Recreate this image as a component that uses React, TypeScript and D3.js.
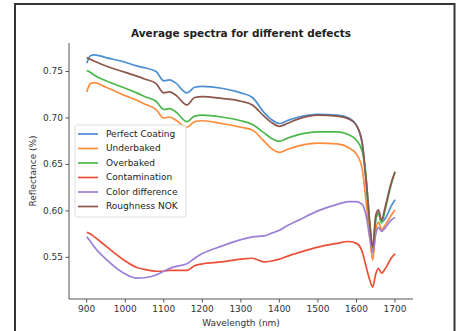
import React from 'react';
import * as d3 from 'd3';

const wavelengths = [900, 910, 920, 950, 1000, 1030, 1050, 1080, 1100, 1115, 1130, 1160, 1180, 1200, 1250, 1300, 1330, 1360, 1380, 1400, 1420, 1450, 1500, 1550, 1580, 1600, 1615, 1625, 1635, 1642, 1650, 1657, 1665, 1675, 1690, 1700];

const perfectCoating = [0.759, 0.767, 0.768, 0.765, 0.760, 0.756, 0.754, 0.750, 0.740, 0.741, 0.738, 0.727, 0.733, 0.734, 0.732, 0.727, 0.722, 0.706, 0.698, 0.694, 0.697, 0.701, 0.704, 0.703, 0.700, 0.692, 0.672, 0.630, 0.580, 0.557, 0.590, 0.598, 0.588, 0.592, 0.605, 0.612];
const underbaked = [0.728, 0.737, 0.738, 0.733, 0.724, 0.719, 0.715, 0.709, 0.700, 0.701, 0.698, 0.690, 0.696, 0.697, 0.694, 0.690, 0.687, 0.675, 0.667, 0.663, 0.666, 0.670, 0.673, 0.672, 0.668, 0.661, 0.645, 0.610, 0.570, 0.547, 0.578, 0.588, 0.580, 0.585, 0.595, 0.601];
const overbaked = [0.751, 0.749, 0.746, 0.740, 0.732, 0.727, 0.723, 0.718, 0.709, 0.710, 0.707, 0.696, 0.702, 0.703, 0.701, 0.697, 0.693, 0.684, 0.678, 0.675, 0.678, 0.682, 0.685, 0.685, 0.682, 0.676, 0.664, 0.635, 0.585, 0.556, 0.590, 0.597, 0.587, 0.602, 0.628, 0.642];
const contamination = [0.577, 0.575, 0.572, 0.562, 0.546, 0.539, 0.537, 0.535, 0.535, 0.536, 0.536, 0.536, 0.541, 0.543, 0.545, 0.548, 0.549, 0.545, 0.546, 0.548, 0.551, 0.555, 0.561, 0.565, 0.567, 0.565, 0.556, 0.540, 0.525, 0.518, 0.532, 0.538, 0.533, 0.538, 0.549, 0.554];
const colorDifference = [0.572, 0.567, 0.561, 0.548, 0.532, 0.5275, 0.528, 0.531, 0.535, 0.538, 0.540, 0.543, 0.549, 0.554, 0.562, 0.569, 0.572, 0.573, 0.576, 0.579, 0.584, 0.590, 0.600, 0.607, 0.610, 0.610, 0.607, 0.595, 0.570, 0.555, 0.575, 0.582, 0.578, 0.582, 0.590, 0.593];
const roughnessNok = [0.765, 0.763, 0.761, 0.756, 0.749, 0.745, 0.742, 0.737, 0.727, 0.728, 0.725, 0.714, 0.722, 0.723, 0.721, 0.718, 0.714, 0.702, 0.695, 0.691, 0.694, 0.699, 0.703, 0.702, 0.699, 0.692, 0.673, 0.635, 0.585, 0.561, 0.595, 0.601, 0.590, 0.605, 0.630, 0.642];

const seriesNames = ['Perfect Coating', 'Underbaked', 'Overbaked', 'Contamination', 'Color difference', 'Roughness NOK'];
const seriesValues = [perfectCoating, underbaked, overbaked, contamination, colorDifference, roughnessNok];
const colors = ['#4a8fd4', '#ff8c3c', '#4cb84c', '#ec4f37', '#9d7fd6', '#8c564b'];

const xTicks = [900, 1000, 1100, 1200, 1300, 1400, 1500, 1600, 1700];
const yTicks = [0.55, 0.6, 0.65, 0.7, 0.75];

const font = 'DejaVu Sans, sans-serif';

export default function App() {
  const width = 460;
  const height = 331;

  const x = d3.scaleLinear().domain([900, 1700]).range([86.7, 395]);
  const y = d3.scaleLinear().domain([0.55, 0.75]).range([257.3, 71.5]);

  const left = 69;
  const right = 413;
  const top = 43;
  const bottom = 299;

  const line = d3.line<[number, number]>()
    .x(d => x(d[0]))
    .y(d => y(d[1]))
    .curve(d3.curveMonotoneX);

  return (
    <svg width={width} height={height} style={{ position: 'absolute', left: 0, top: 0, background: '#fff' }}>
      <rect x={15} y={4} width={439.5} height={340} fill="#fff" stroke="#333" strokeWidth={2} />

      <text x={241} y={37} textAnchor="middle" fontFamily={font} fontSize={10.5} fontWeight="bold" fill="#222">
        Average spectra for different defects
      </text>

      {seriesValues.map((vals, i) => (
        <path
          key={seriesNames[i]}
          d={line(wavelengths.map((w, j) => [w, vals[j]] as [number, number])) || ''}
          fill="none"
          stroke={colors[i]}
          strokeWidth={1.7}
          strokeLinejoin="round"
        />
      ))}

      {/* axes */}
      <line x1={left} x2={left} y1={top} y2={bottom} stroke="#555" strokeWidth={1} />
      <line x1={left} x2={right} y1={bottom} y2={bottom} stroke="#555" strokeWidth={1} />

      {yTicks.map(t => (
        <g key={t} transform={`translate(0,${y(t)})`}>
          <line x1={left - 3.5} x2={left} stroke="#555" />
          <text x={left - 6} dy="0.32em" textAnchor="end" fontFamily={font} fontSize={9} fill="#333">
            {t.toFixed(2)}
          </text>
        </g>
      ))}

      {xTicks.map(t => (
        <g key={t} transform={`translate(${x(t)},0)`}>
          <line y1={bottom} y2={bottom + 3.5} stroke="#555" />
          <text y={bottom + 12.5} textAnchor="middle" fontFamily={font} fontSize={9} fill="#333">
            {t}
          </text>
        </g>
      ))}

      <text x={241} y={326} textAnchor="middle" fontFamily={font} fontSize={9} fill="#333">
        Wavelength (nm)
      </text>
      <text transform={`translate(36,${(top + bottom) / 2}) rotate(-90)`} textAnchor="middle" fontFamily={font} fontSize={9} fill="#333">
        Reflectance (%)
      </text>

      {/* legend */}
      <rect x={75} y={125} width={111} height={92} rx={2.5} fill="#fff" fillOpacity={0.8} stroke="#ddd" />
      {seriesNames.map((name, i) => (
        <g key={name} transform={`translate(0,${134 + i * 14.5})`}>
          <line x1={78} x2={98} stroke={colors[i]} strokeWidth={1.7} />
          <text x={106} dy="0.32em" fontFamily={font} fontSize={9} fill="#222">
            {name}
          </text>
        </g>
      ))}
    </svg>
  );
}
